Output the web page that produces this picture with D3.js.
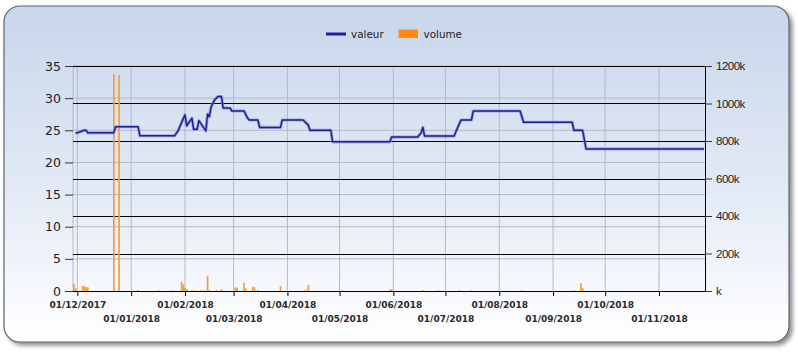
<!DOCTYPE html>
<html><head><meta charset="utf-8">
<script src="https://cdn.jsdelivr.net/npm/d3@7"></script>
<style>html,body{margin:0;padding:0;background:#fff;}svg{display:block;}</style>
</head><body>
<svg id="chart" width="798" height="354"></svg>
<script>
// ---- data ----
const valeurDates = ["2017-11-30","2017-12-01","2017-12-03","2017-12-05","2017-12-06","2017-12-07","2017-12-22","2017-12-23","2018-01-05","2018-01-06","2018-01-26","2018-01-28","2018-01-30","2018-02-01","2018-02-02","2018-02-05","2018-02-06","2018-02-08","2018-02-09","2018-02-13","2018-02-14","2018-02-15","2018-02-16","2018-02-18","2018-02-20","2018-02-22","2018-02-23","2018-02-27","2018-02-28","2018-03-07","2018-03-09","2018-03-10","2018-03-15","2018-03-16","2018-03-28","2018-03-29","2018-04-10","2018-04-13","2018-04-14","2018-04-26","2018-04-27","2018-05-30","2018-05-31","2018-06-15","2018-06-17","2018-06-18","2018-06-19","2018-07-06","2018-07-08","2018-07-10","2018-07-16","2018-07-17","2018-08-13","2018-08-15","2018-09-12","2018-09-13","2018-09-18","2018-09-20","2018-11-27"];
const valeurValues = [24.6,24.6,24.8,25.0,25.0,24.6,24.6,25.55,25.55,24.15,24.15,24.9,26.2,27.4,25.7,26.9,25.15,25.15,26.5,24.9,27.5,27.1,28.6,29.7,30.25,30.25,28.45,28.45,28.0,28.0,26.9,26.6,26.6,25.45,25.45,26.6,26.6,25.8,25.0,25.0,23.2,23.2,23.95,23.95,24.6,25.45,24.1,24.1,25.4,26.6,26.6,28.0,28.0,26.25,26.25,25.0,25.0,22.1,22.1];
const volumeDates = ["2017-11-29","2017-11-30","2017-12-04","2017-12-05","2017-12-06","2017-12-07","2017-12-22","2017-12-25","2018-01-05","2018-01-17","2018-01-25","2018-01-30","2018-01-31","2018-02-01","2018-02-02","2018-02-05","2018-02-07","2018-02-10","2018-02-12","2018-02-14","2018-02-15","2018-02-19","2018-02-22","2018-03-02","2018-03-03","2018-03-07","2018-03-08","2018-03-12","2018-03-13","2018-03-15","2018-03-28","2018-04-11","2018-04-13","2018-05-03","2018-05-30","2018-05-31","2018-06-18","2018-06-27","2018-07-09","2018-07-16","2018-08-14","2018-09-13","2018-09-17","2018-09-18"];
const volumeValues = [40,15,27,27,20,20,1157,1152,5,3,3,50,36,18,10,4,4,4,4,82,5,5,10,18,18,44,13,23,20,5,27,4,32,3,8,10,5,3,5,3,3,3,41,16];
const leftTicks = [0,5,10,15,20,25,30,35];
const rightTicks = [0,200,400,600,800,1000,1200];
const monthTicks = ["2017-12-01","2018-01-01","2018-02-01","2018-03-01","2018-04-01","2018-05-01","2018-06-01","2018-07-01","2018-08-01","2018-09-01","2018-10-01","2018-11-01"];
const seriesNames = ["valeur","volume"];

const parse = d3.utcParse("%Y-%m-%d");
const fmt = d3.utcFormat("%d/%m/%Y");
const svg = d3.select("#chart");

const L = 73, R = 705, T = 66, B = 291;
const x = d3.scaleUtc().domain([new Date(Date.UTC(2017,10,28,12)), new Date(Date.UTC(2018,10,27,12))]).range([L, R]);
const yL = d3.scaleLinear().domain([0,35]).range([B, T]);
const yR = d3.scaleLinear().domain([0,1200]).range([B, T]);

const defs = svg.append("defs");
const g = defs.append("linearGradient").attr("id","bg").attr("x1",0).attr("y1",0).attr("x2",0).attr("y2",1);
g.append("stop").attr("offset","0%").attr("stop-color","#c8d6eb");
g.append("stop").attr("offset","55%").attr("stop-color","#e3eaf5");
g.append("stop").attr("offset","100%").attr("stop-color","#ffffff");
const f = defs.append("filter").attr("id","sh").attr("x","-5%").attr("y","-5%").attr("width","115%").attr("height","120%");
f.append("feDropShadow").attr("dx",3).attr("dy",3).attr("stdDeviation",2).attr("flood-color","#000").attr("flood-opacity",0.45);

svg.append("rect").attr("x",4).attr("y",6).attr("width",785).attr("height",336).attr("rx",16).attr("ry",16)
  .attr("fill","url(#bg)").attr("stroke","#5b6472").attr("stroke-width",1.2).attr("filter","url(#sh)");

// gridlines
const grid = svg.append("g");
grid.selectAll("line.v").data(monthTicks.map(parse)).join("line")
  .attr("x1",d=>x(d)).attr("x2",d=>x(d)).attr("y1",T).attr("y2",B).attr("stroke","#b3bac6").attr("stroke-width",1);
grid.append("line").attr("x1",L).attr("x2",L).attr("y1",T).attr("y2",B).attr("stroke","#b3bac6");
grid.selectAll("line.hl").data(leftTicks.slice(1)).join("line")
  .attr("x1",L).attr("x2",R).attr("y1",d=>yL(d)).attr("y2",d=>yL(d)).attr("stroke","#b3bac6").attr("stroke-width",1);
grid.selectAll("line.hr").data(rightTicks.slice(1)).enter().append("line")
  .attr("x1",L).attr("x2",R).attr("y1",d=>Math.round(yR(d))+0.5).attr("y2",d=>Math.round(yR(d))+0.5).attr("stroke","#000").attr("stroke-width",1);

// volume bars
const vol = volumeDates.map((d,i)=>({d:parse(d), v:volumeValues[i]}));
svg.append("g").selectAll("rect").data(vol).join("rect")
  .attr("x",d=>x(d.d)-0.8).attr("width",1.7)
  .attr("y",d=>yR(d.v)).attr("height",d=>B-yR(d.v))
  .attr("fill","#f0a040");

// valeur line
const val = valeurDates.map((d,i)=>({d:parse(d), v:valeurValues[i]}));
const line = d3.line().x(d=>x(d.d)).y(d=>yL(d.v));
svg.append("path").datum(val).attr("d",line).attr("fill","none").attr("stroke","#8c8cd0").attr("stroke-width",3.2).attr("stroke-opacity",0.7).attr("stroke-linejoin","round");
svg.append("path").datum(val).attr("d",line).attr("fill","none").attr("stroke","#1f1f9c").attr("stroke-width",1.5).attr("stroke-linejoin","round");

// axes
const axL = svg.append("g").attr("transform",`translate(${L},0)`)
  .call(d3.axisLeft(yL).tickValues(leftTicks).tickSize(8).tickPadding(4));
axL.select(".domain").remove();
axL.selectAll("text").attr("font-family","DejaVu Sans").attr("font-size",12.5).attr("fill","#222");
axL.selectAll("line").attr("stroke","#333");

const axR = svg.append("g").attr("transform",`translate(${R},0)`)
  .call(d3.axisRight(yR).tickValues(rightTicks).tickSize(7).tickPadding(4).tickFormat(d=>(d===0?"":d)+"k"));
axR.select(".domain").attr("stroke","#000").attr("d",`M0.5,${T}V${B}`);
axR.selectAll("text").attr("font-family","Liberation Sans").attr("font-size",11.5).attr("letter-spacing","-0.5px").attr("fill","#222");
axR.selectAll("line").attr("stroke","#333");

const axB = svg.append("g").attr("transform",`translate(0,${B})`)
  .call(d3.axisBottom(x).tickValues(monthTicks.map(parse)).tickSize(5).tickFormat(fmt));
axB.select(".domain").attr("stroke","#000").attr("d",`M${L},0.5H${R}`);
axB.selectAll("line").attr("stroke","#000");
axB.selectAll("text").attr("font-family","DejaVu Sans").attr("font-weight","bold").attr("font-size",9).attr("fill","#2a2a2a")
  .attr("dy",null).attr("y",(d,i)=> i%2===0 ? 17 : 31);

// legend
const lg = svg.append("g").attr("font-family","DejaVu Sans").attr("font-size",10.4).attr("fill","#222");
lg.append("line").attr("x1",326).attr("x2",346).attr("y1",34).attr("y2",34).attr("stroke","#1e1ea8").attr("stroke-width",3);
lg.append("text").attr("x",351).attr("y",37.5).text(seriesNames[0]);
lg.append("rect").attr("x",398.5).attr("y",29.5).attr("width",19.5).attr("height",8.5).attr("fill","#ff8c10");
lg.append("text").attr("x",423.5).attr("y",37.5).text(seriesNames[1]);
</script>
</body></html>
